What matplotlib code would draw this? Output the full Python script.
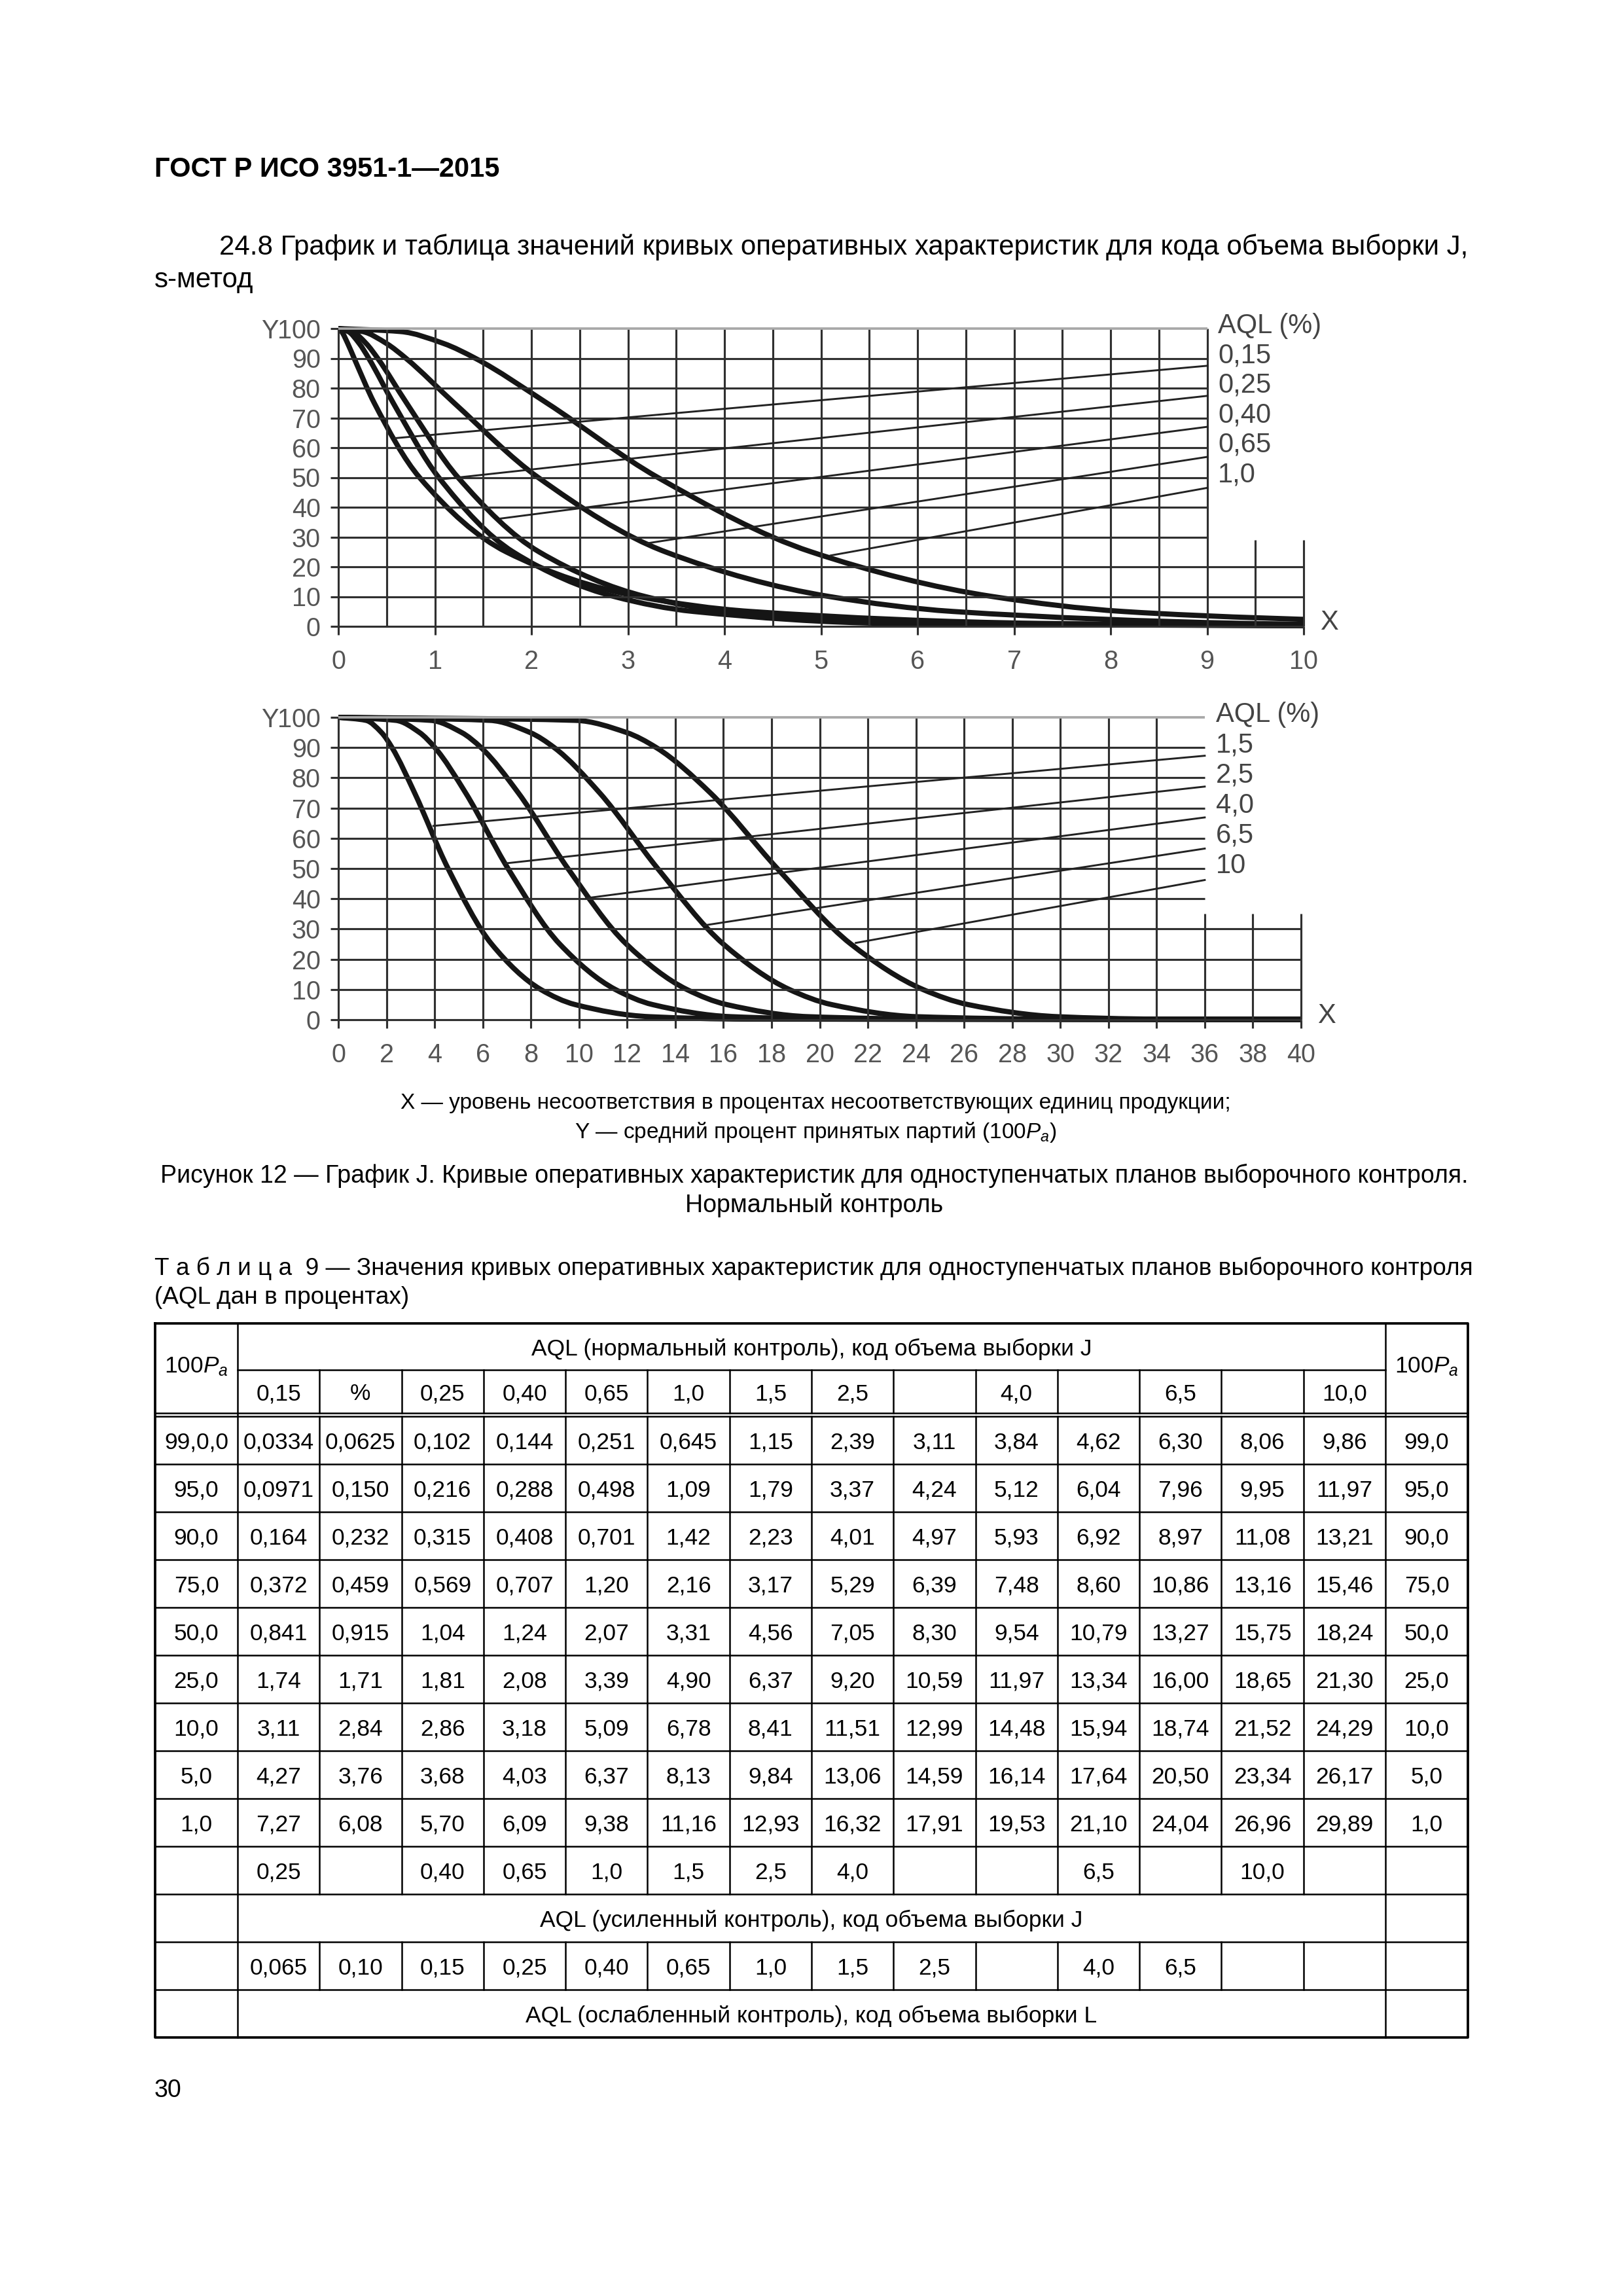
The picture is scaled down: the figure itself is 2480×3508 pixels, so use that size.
import matplotlib
matplotlib.use("Agg")
import matplotlib.pyplot as plt
from matplotlib.patches import Rectangle, PathPatch
from matplotlib.path import Path

plt.rcParams['font.family'] = ['Liberation Sans', 'DejaVu Sans']
plt.rcParams['mathtext.fontset'] = 'custom'
plt.rcParams['mathtext.rm'] = 'Liberation Sans'
plt.rcParams['mathtext.it'] = 'Liberation Sans:italic'

W, H, DPI = 2480, 3508, 300

# ---------------- data (table 9) ----------------
pa_levels = ["99,0", "95,0", "90,0", "75,0", "50,0", "25,0", "10,0", "5,0", "1,0"]
pa_left = ["99,0,0", "95,0", "90,0", "75,0", "50,0", "25,0", "10,0", "5,0", "1,0"]

aql_normal = ["0,15", "%", "0,25", "0,40", "0,65", "1,0", "1,5", "2,5", "", "4,0", "", "6,5", "", "10,0"]
aql_tightened = ["0,25", "", "0,40", "0,65", "1,0", "1,5", "2,5", "4,0", "", "", "6,5", "", "10,0", ""]
aql_reduced = ["0,065", "0,10", "0,15", "0,25", "0,40", "0,65", "1,0", "1,5", "2,5", "", "4,0", "6,5", "", ""]

p_015 = ["0,0334", "0,0971", "0,164", "0,372", "0,841", "1,74", "3,11", "4,27", "7,27"]
p_pct = ["0,0625", "0,150", "0,232", "0,459", "0,915", "1,71", "2,84", "3,76", "6,08"]
p_025 = ["0,102", "0,216", "0,315", "0,569", "1,04", "1,81", "2,86", "3,68", "5,70"]
p_040 = ["0,144", "0,288", "0,408", "0,707", "1,24", "2,08", "3,18", "4,03", "6,09"]
p_065 = ["0,251", "0,498", "0,701", "1,20", "2,07", "3,39", "5,09", "6,37", "9,38"]
p_10 = ["0,645", "1,09", "1,42", "2,16", "3,31", "4,90", "6,78", "8,13", "11,16"]
p_15 = ["1,15", "1,79", "2,23", "3,17", "4,56", "6,37", "8,41", "9,84", "12,93"]
p_25 = ["2,39", "3,37", "4,01", "5,29", "7,05", "9,20", "11,51", "13,06", "16,32"]
p_blank1 = ["3,11", "4,24", "4,97", "6,39", "8,30", "10,59", "12,99", "14,59", "17,91"]
p_40 = ["3,84", "5,12", "5,93", "7,48", "9,54", "11,97", "14,48", "16,14", "19,53"]
p_blank2 = ["4,62", "6,04", "6,92", "8,60", "10,79", "13,34", "15,94", "17,64", "21,10"]
p_65 = ["6,30", "7,96", "8,97", "10,86", "13,27", "16,00", "18,74", "20,50", "24,04"]
p_blank3 = ["8,06", "9,95", "11,08", "13,16", "15,75", "18,65", "21,52", "23,34", "26,96"]
p_100 = ["9,86", "11,97", "13,21", "15,46", "18,24", "21,30", "24,29", "26,17", "29,89"]
columns = [p_015, p_pct, p_025, p_040, p_065, p_10, p_15, p_25,
           p_blank1, p_40, p_blank2, p_65, p_blank3, p_100]

# chart 1 (AQL 0,15 ... 1,0)
top_curves = [0, 2, 3, 4, 5]
top_labels = ["0,15", "0,25", "0,40", "0,65", "1,0"]
top_tail_x = [[10], [10], [10], [10], []]
top_tail_y = [[0.3], [0.2], [0.25], [0.7], []]
top_leader_x0 = [0.59, 1.10, 1.68, 3.20, 5.10]
top_leader_y0 = [63.2, 49.5, 36.2, 27.9, 23.8]
top_leader_y1 = [87.5, 77.4, 67.0, 56.9, 46.5]

# chart 2 (AQL 1,5 ... 10)
bot_curves = [6, 7, 9, 11, 13]
bot_labels = ["1,5", "2,5", "4,0", "6,5", "10"]
bot_tail_x = [[17, 40], [21, 40], [25, 40], [30, 40], [34, 40]]
bot_tail_y = [[0.2, 0.1], [0.2, 0.1], [0.2, 0.1], [0.2, 0.1], [0.2, 0.1]]
bot_leader_x0 = [3.95, 6.94, 10.3, 15.2, 21.5]
bot_leader_y0 = [64.1, 51.7, 40.2, 31.2, 25.4]
bot_leader_y1 = [87.3, 77.1, 66.9, 56.6, 46.2]

y_ticks = list(range(0, 101, 10))
top_xticks = list(range(0, 11))
bot_xticks = list(range(0, 41, 2))


def num(s):
    return float(s.replace(",", "."))


def smooth_path(xs, ys):
    # monotone cubic (Fritsch-Carlson) drawn as bezier segments through the points
    n = len(xs)
    h = [xs[i + 1] - xs[i] for i in range(n - 1)]
    d = [(ys[i + 1] - ys[i]) / h[i] for i in range(n - 1)]
    m = [d[0]] + [0.0] * (n - 2) + [d[-1]]
    for i in range(1, n - 1):
        if d[i - 1] * d[i] > 0:
            w1 = 2 * h[i] + h[i - 1]
            w2 = h[i] + 2 * h[i - 1]
            m[i] = (w1 + w2) / (w1 / d[i - 1] + w2 / d[i])
    verts = [(xs[0], ys[0])]
    codes = [Path.MOVETO]
    for i in range(n - 1):
        verts += [(xs[i] + h[i] / 3, ys[i] + m[i] * h[i] / 3),
                  (xs[i + 1] - h[i] / 3, ys[i + 1] - m[i + 1] * h[i] / 3),
                  (xs[i + 1], ys[i + 1])]
        codes += [Path.CURVE4] * 3
    return Path(verts, codes)


fig = plt.figure(figsize=(W / DPI, H / DPI), dpi=DPI)
page = fig.add_axes([0, 0, 1, 1])
page.set_xlim(0, W)
page.set_ylim(H, 0)
page.axis("off")

GRID = "#303030"
LIGHT = "#a8a8a8"
INK = "#151515"
TICK_TXT = "#555555"


def add_chart(left, right, top, bottom, xmax, xticks, xgrid, vfull, xcut, hcut, vtop,
              curves, tail_x, tail_y, lx0, ly0, ly1, labels):
    ax = fig.add_axes([left / W, 1 - bottom / H, (right - left) / W, (bottom - top) / H])
    ax.set_xlim(0, xmax)
    ax.set_ylim(0, 100)
    ax.patch.set_alpha(0)
    for s in ax.spines.values():
        s.set_visible(False)
    ax.set_xticks(xticks)
    ax.set_yticks(y_ticks)
    ax.tick_params(axis="x", direction="out", length=3, width=0.75, color=GRID,
                   pad=5.5, labelsize=9.5, labelcolor=TICK_TXT)
    ax.tick_params(axis="y", direction="out", length=2.8, width=0.75, color=GRID,
                   pad=3.8, labelsize=9.5, labelcolor=TICK_TXT)

    # grid with the cut-out corner for the labels
    for x in xgrid:
        ax.vlines(x, 0, 100 if x <= vfull else vtop, color=GRID, lw=0.75, clip_on=False)
    for y in y_ticks:
        ax.hlines(y, 0, xmax if y < hcut else xcut, color=LIGHT if y == 100 else GRID,
                  lw=0.9 if y == 100 else 0.75, clip_on=False)

    clip = Rectangle((0, -10), xmax, 120, transform=ax.transData)
    for i, c in enumerate(curves):
        xs = [0.0] + [num(v) for v in columns[c]] + tail_x[i]
        ys = [100.0] + [num(v) for v in pa_levels] + tail_y[i]
        patch = PathPatch(smooth_path(xs, ys), fill=False, edgecolor=INK, lw=1.9,
                          capstyle="round", joinstyle="round")
        ax.add_patch(patch)
        patch.set_clip_path(clip)

    for i in range(len(labels)):
        ax.plot([lx0[i], xcut], [ly0[i], ly1[i]], color="#222222", lw=0.7, clip_on=False)
        ax.annotate(labels[i], xy=(xcut, 90 - 10 * i), xytext=(4, 1), textcoords="offset points",
                    ha="left", va="center", fontsize=10, color="#444444",
                    annotation_clip=False)
    ax.annotate("AQL (%)", xy=(xcut, 100), xytext=(4, 1), textcoords="offset points",
                ha="left", va="center", fontsize=10, color="#444444", annotation_clip=False)
    ax.annotate("X", xy=(xmax, 0), xytext=(6, 1.5), textcoords="offset points",
                ha="left", va="center", fontsize=10, color="#444444", annotation_clip=False)
    ax.annotate("Y", xy=(0, 100), xytext=(-22, -1), textcoords="offset points",
                ha="right", va="center", fontsize=9.5, color=TICK_TXT, annotation_clip=False)
    return ax


add_chart(517, 1992, 502, 957, 10, top_xticks, [k * 0.5 for k in range(21)], 9, 9, 30, 29,
          top_curves, top_tail_x, top_tail_y, top_leader_x0, top_leader_y0, top_leader_y1,
          top_labels)
add_chart(517, 1988, 1096, 1558, 40, bot_xticks, bot_xticks, 34, 36, 40, 35,
          bot_curves, bot_tail_x, bot_tail_y, bot_leader_x0, bot_leader_y0, bot_leader_y1,
          bot_labels)

# ---------------- page texts ----------------
page.text(236, 254, "ГОСТ Р ИСО 3951-1—2015", fontsize=10, fontweight="bold",
          ha="left", va="center_baseline")
page.text(335, 373, "24.8 График и таблица значений кривых оперативных характеристик для кода объема выборки J,",
          fontsize=10.1, ha="left", va="center_baseline")
page.text(236, 423, "s-метод", fontsize=10.1, ha="left", va="center_baseline")

page.text(1246, 1682, "X — уровень несоответствия в процентах несоответствующих единиц продукции;",
          fontsize=8.0, ha="center", va="center_baseline")
page.text(1246, 1725, "Y — средний процент принятых партий (100$P_a$)",
          fontsize=8.0, ha="center", va="center_baseline")
page.text(1244, 1792, "Рисунок 12 — График J. Кривые оперативных характеристик для одноступенчатых планов выборочного контроля.",
          fontsize=9.0, ha="center", va="center_baseline")
page.text(1244, 1837, "Нормальный контроль", fontsize=9.0, ha="center", va="center_baseline")

page.text(236, 1934, "Т а б л и ц а  9 — Значения кривых оперативных характеристик для одноступенчатых планов выборочного контроля",
          fontsize=8.9, ha="left", va="center_baseline")
page.text(236, 1979, "(AQL дан в процентах)", fontsize=8.9, ha="left", va="center_baseline")
page.text(236, 3190, "30", fontsize=9, ha="left", va="center_baseline")

# ---------------- table ----------------
T_L, T_R = 237, 2243
C0, C1 = 363, 2117
n_cols = len(aql_normal)
cw = (C1 - C0) / n_cols
col_edges = [C0 + cw * k for k in range(n_cols + 1)]
col_mid = [C0 + cw * (k + 0.5) for k in range(n_cols)]
R_TOP, R_H1, R_H2, R_D = 2022, 2093, 2159, 2164
RH = 73
n_rows = len(pa_levels) + 4
row_edges = [R_D + RH * k for k in range(n_rows + 1)]
R_BOT = row_edges[-1]
LW = 0.6
TFS = 8.5

# outer frame
page.plot([T_L, T_R, T_R, T_L, T_L], [R_TOP, R_TOP, R_BOT, R_BOT, R_TOP], color="k", lw=0.9)
# full-height verticals
for x in (C0, C1):
    page.plot([x, x], [R_TOP, R_BOT], color="k", lw=LW)
# horizontals
page.plot([C0, C1], [R_H1, R_H1], color="k", lw=LW)
page.plot([T_L, T_R], [R_H2, R_H2], color="k", lw=LW)
for y in row_edges[:-1]:
    page.plot([T_L, T_R], [y, y], color="k", lw=LW)
# internal verticals only where cells are split
split_spans = [(R_H1, R_H2), (row_edges[0], row_edges[len(pa_levels) + 1]),
               (row_edges[len(pa_levels) + 2], row_edges[len(pa_levels) + 3])]
for x in col_edges[1:-1]:
    for y0, y1 in split_spans:
        page.plot([x, x], [y0, y1], color="k", lw=LW)

# header
page.text((C0 + C1) / 2, (R_TOP + R_H1) / 2, "AQL (нормальный контроль), код объема выборки J",
          fontsize=TFS, ha="center", va="center_baseline")
for x in ((T_L + C0) / 2, (C1 + T_R) / 2):
    page.text(x, (R_TOP + R_H2) / 2 - 6, "100$P_a$", fontsize=TFS, ha="center", va="center_baseline")
for k, s in enumerate(aql_normal):
    page.text(col_mid[k], (R_H1 + R_H2) / 2, s, fontsize=TFS, ha="center", va="center_baseline")

# data rows
for r in range(len(pa_levels)):
    yc = (row_edges[r] + row_edges[r + 1]) / 2
    page.text((T_L + C0) / 2, yc, pa_left[r], fontsize=TFS, ha="center", va="center_baseline")
    page.text((C1 + T_R) / 2, yc, pa_levels[r], fontsize=TFS, ha="center", va="center_baseline")
    for k in range(n_cols):
        page.text(col_mid[k], yc, columns[k][r], fontsize=TFS, ha="center", va="center_baseline")

r = len(pa_levels)
yc = (row_edges[r] + row_edges[r + 1]) / 2
for k, s in enumerate(aql_tightened):
    page.text(col_mid[k], yc, s, fontsize=TFS, ha="center", va="center_baseline")
yc = (row_edges[r + 1] + row_edges[r + 2]) / 2
page.text((C0 + C1) / 2, yc, "AQL (усиленный контроль), код объема выборки J",
          fontsize=TFS, ha="center", va="center_baseline")
yc = (row_edges[r + 2] + row_edges[r + 3]) / 2
for k, s in enumerate(aql_reduced):
    page.text(col_mid[k], yc, s, fontsize=TFS, ha="center", va="center_baseline")
yc = (row_edges[r + 3] + row_edges[r + 4]) / 2
page.text((C0 + C1) / 2, yc, "AQL (ослабленный контроль), код объема выборки L",
          fontsize=TFS, ha="center", va="center_baseline")

fig.savefig("out.png", dpi=DPI)
